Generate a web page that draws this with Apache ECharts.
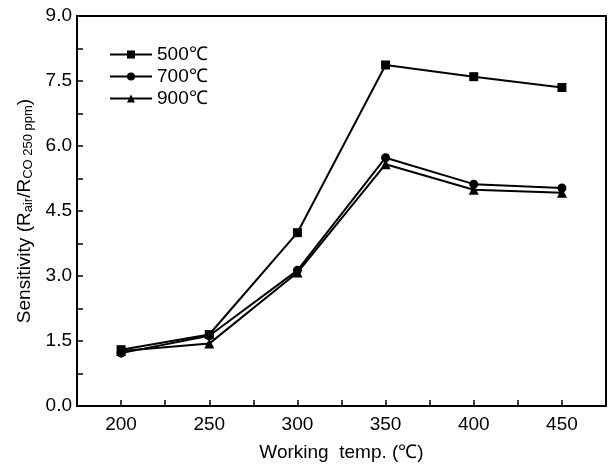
<!DOCTYPE html>
<html><head><meta charset="utf-8">
<script src="https://cdn.jsdelivr.net/npm/echarts@6/dist/echarts.min.js"></script>
<style>html,body{margin:0;padding:0;background:#fff}#c{width:609px;height:470px}</style>
</head><body><div id="c"></div>
<script>
const temps = [200, 250, 300, 350, 400, 450];
const s500 = [1.30, 1.65, 4.00, 7.87, 7.60, 7.35];
const s700 = [1.22, 1.62, 3.13, 5.73, 5.12, 5.03];
const s900 = [1.27, 1.44, 3.08, 5.58, 4.99, 4.92];
const names = ['500℃', '700℃', '900℃'];
const symbols = ['rect', 'circle', 'triangle'];
const seriesVals = [s500, s700, s900];
const xTicks = [200, 250, 300, 350, 400, 450];
const yTicks = [0, 1.5, 3.0, 4.5, 6.0, 7.5, 9.0];

const font = 'Liberation Sans, Arial, sans-serif';
const chart = echarts.init(document.getElementById('c'), null, {renderer: 'canvas'});
chart.setOption({
  animation: false,
  backgroundColor: '#fff',
  grid: {left: 77, top: 16, right: 2, bottom: 64, show: true, borderColor: '#000', borderWidth: 2},
  legend: {
    orient: 'vertical', left: 104, top: 40, itemGap: 3,
    itemWidth: 42, itemHeight: 10,
    textStyle: {fontFamily: font, fontSize: 19, color: '#000'},
    data: names
  },
  xAxis: {
    type: 'value', min: 175, max: 475, interval: 25,
    name: 'Working  temp. (℃)', nameLocation: 'middle', nameGap: 37,
    nameTextStyle: {fontFamily: font, fontSize: 19, color: '#000'},
    axisLine: {lineStyle: {color: '#000', width: 2}},
    axisTick: {inside: true, length: 6, lineStyle: {color: '#000', width: 1.5}},
    axisLabel: {fontFamily: font, fontSize: 19, color: '#000', margin: 9,
      formatter: v => xTicks.includes(v) ? String(v) : ''},
    splitLine: {show: false}
  },
  yAxis: {
    type: 'value', min: 0, max: 9, interval: 0.75,
    name: 'Sensitivity (R{s|air}/R{s|CO 250 ppm})',
    nameLocation: 'middle', nameGap: 40, nameRotate: 90,
    nameTextStyle: {fontFamily: font, fontSize: 19, color: '#000',
      rich: {s: {fontFamily: font, fontSize: 13, color: '#000', padding: [7, 0, 0, 0]}}},
    axisLine: {lineStyle: {color: '#000', width: 2}},
    axisTick: {inside: true, length: 6, lineStyle: {color: '#000', width: 1.5}},
    axisLabel: {fontFamily: font, fontSize: 19, color: '#000', margin: 5,
      formatter: v => yTicks.some(t => Math.abs(t - v) < 1e-6) ? v.toFixed(1) : ''},
    splitLine: {show: false}
  },
  series: names.map((n, i) => ({
    name: n, type: 'line',
    data: temps.map((t, j) => [t, seriesVals[i][j]]),
    symbol: symbols[i], symbolSize: i === 2 ? 10 : 9,
    showAllSymbol: true,
    itemStyle: {color: '#000'},
    lineStyle: {color: '#000', width: 2}
  }))
});
</script></body></html>
